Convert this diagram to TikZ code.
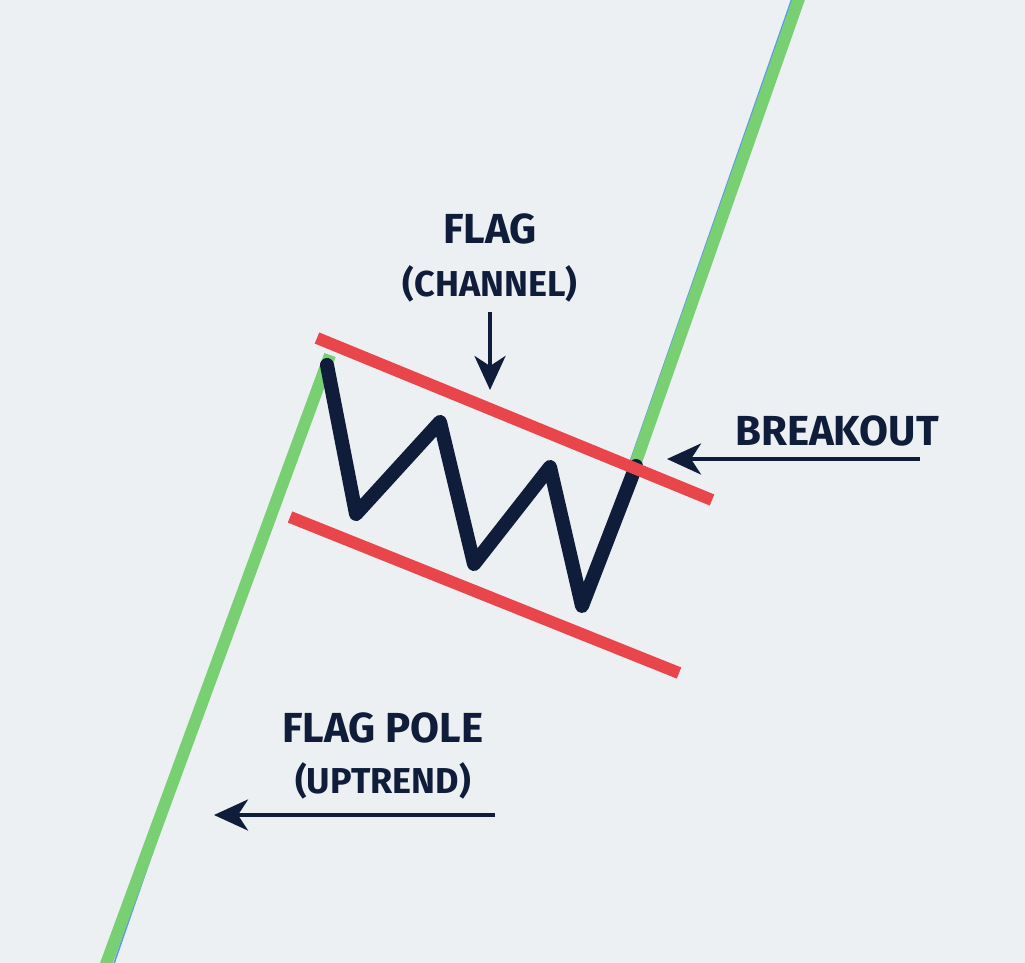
\documentclass[tikz,border=0pt]{standalone}
\usepackage{fontspec}
\setmainfont{Fira Sans}
\usetikzlibrary{arrows.meta}
\definecolor{bgcol}{HTML}{ECF0F3}
\definecolor{polegreen}{HTML}{78D072}
\definecolor{poleblue}{HTML}{5B9BE6}
\definecolor{flagred}{HTML}{E8464B}
\definecolor{inknavy}{HTML}{0F1D3A}
\begin{document}
\begin{tikzpicture}[x=1pt,y=-1pt,
  pole/.style={polegreen, line width=12pt},
  poleedge/.style={poleblue, line width=1.6pt},
  rail/.style={flagred, line width=12pt},
  zigzag/.style={inknavy, line width=14pt, line join=round, line cap=round},
  pointer/.style={inknavy, line width=4pt, -{Stealth[length=34pt, width=31pt, inset=10pt]}},
  bigtxt/.style={font=\fontsize{42}{44}\selectfont\bfseries, text=inknavy, inner sep=0pt},
  smalltxt/.style={font=\fontsize{36}{38}\selectfont\bfseries, text=inknavy, inner sep=0pt}]
\fill[bgcol] (0,0) rectangle (1025,963);
\useasboundingbox (0,0) rectangle (1025,963);
% flag pole, lower part and continuation after the breakout
\draw[poleedge] (110,975) -- (323,360);
\draw[pole] (102,975) -- (330,355);
\draw[poleedge] (630,462) -- (795,-10);
\draw[pole] (636,462) -- (802,-10);
% price inside the channel
\draw[zigzag] (327,365) -- (356,514) -- (440,422) -- (474,564) -- (550,467) -- (582,606) -- (636,466);
% channel rails
\draw[rail] (317,338) -- (712,500);
\draw[rail] (290,517) -- (679,673);
% labels
\node[bigtxt] (flag) at (490,229) {FLAG};
\node[smalltxt] (channel) at (490,284) {(CHANNEL)};
\node[bigtxt] (breakout) at (837,431) {BREAKOUT};
\node[bigtxt] (flagpole) at (383,728) {FLAG POLE};
\node[smalltxt] (uptrend) at (383,781) {(UPTREND)};
% arrows
\coordinate (chtail) at (490,312);
\coordinate (chtip) at (490,390);
\coordinate (bktail) at (920,459);
\coordinate (bktip) at (667,459);
\coordinate (fptail) at (495,815);
\coordinate (fptip) at (214,815);
\draw[pointer] (chtail) -- (chtip);
\draw[pointer] (bktail) -- (bktip);
\draw[pointer] (fptail) -- (fptip);
\end{tikzpicture}
\end{document}
